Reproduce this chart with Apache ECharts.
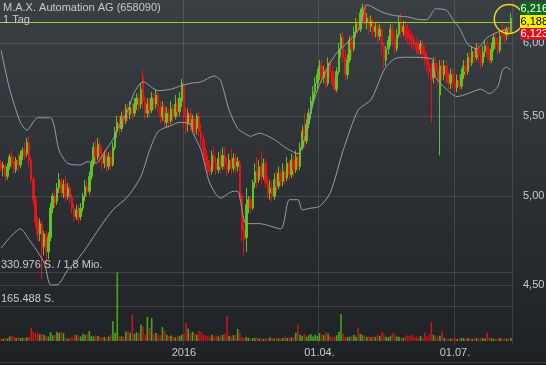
<!DOCTYPE html>
<html><head><meta charset="utf-8">
<script src="https://cdn.jsdelivr.net/npm/echarts@6/dist/echarts.min.js"></script>
<style>
html,body{margin:0;padding:0;background:#1d2023;}
#c{width:546px;height:365px;background:linear-gradient(180deg,#3a3f44 0%,#2b2f33 55%,#1e2124 100%);}
</style>
</head><body><div id="c"></div>
<script>
const titleText = 'M.A.X. Automation AG (658090)';
const periodText = '1 Tag';
// [open, close, low, high]
const candles = [
[5.20,5.17,5.15,5.22],[5.17,5.19,5.12,5.21],[5.18,5.12,5.09,5.20],[5.12,5.18,5.10,5.20],[5.18,5.24,5.16,5.26],
[5.24,5.20,5.17,5.28],[5.21,5.16,5.14,5.25],[5.16,5.22,5.14,5.24],[5.22,5.19,5.15,5.26],[5.19,5.25,5.17,5.28],
[5.25,5.28,5.22,5.30],[5.28,5.25,5.22,5.33],[5.26,5.33,5.24,5.36],[5.33,5.22,5.18,5.37],[5.22,5.10,5.08,5.24],
[5.10,4.98,4.95,5.12],[4.98,4.85,4.82,5.00],[4.85,4.78,4.74,4.88],[4.78,4.84,4.74,4.87],[4.84,4.70,4.53,4.86],
[4.71,4.78,4.66,4.80],[4.78,4.68,4.62,4.80],[4.68,4.76,4.64,4.79],[4.76,4.93,4.74,4.96],[4.93,5.00,4.90,5.02],
[5.00,4.96,4.93,5.04],[4.97,5.05,4.95,5.08],[5.05,5.10,5.02,5.14],[5.09,5.02,5.00,5.11],[5.02,5.07,4.99,5.10],
[5.07,5.00,4.97,5.12],[5.00,5.05,4.98,5.08],[5.05,4.99,4.96,5.07],[4.99,4.93,4.90,5.01],[4.93,4.88,4.85,4.96],
[4.88,4.92,4.86,4.95],[4.92,4.87,4.84,4.95],[4.88,4.93,4.86,4.96],[4.93,5.00,4.91,5.02],[5.00,5.06,4.97,5.10],
[5.06,5.03,5.00,5.10],[5.03,5.12,5.01,5.15],[5.12,5.20,5.10,5.22],[5.20,5.30,5.18,5.33],[5.30,5.24,5.20,5.34],
[5.24,5.32,5.22,5.36],[5.32,5.26,5.20,5.35],[5.26,5.20,5.16,5.30],[5.20,5.25,5.17,5.28],[5.25,5.18,5.15,5.30],
[5.18,5.24,5.16,5.27],[5.24,5.19,5.16,5.28],[5.19,5.30,5.18,5.33],[5.30,5.40,5.28,5.43],[5.40,5.46,5.36,5.50],
[5.46,5.42,5.38,5.50],[5.42,5.50,5.40,5.53],[5.50,5.47,5.43,5.55],[5.47,5.55,5.45,5.58],[5.55,5.51,5.47,5.58],
[5.51,5.56,5.48,5.60],[5.56,5.52,5.48,5.59],[5.52,5.58,5.50,5.62],[5.58,5.62,5.54,5.65],[5.62,5.57,5.53,5.66],
[5.58,5.68,5.55,5.72],[5.76,5.60,5.55,5.81],[5.60,5.52,5.48,5.63],[5.52,5.58,5.49,5.62],[5.58,5.54,5.50,5.62],
[5.54,5.62,5.52,5.66],[5.62,5.58,5.54,5.65],[5.58,5.64,5.55,5.68],[5.64,5.56,5.52,5.66],[5.56,5.50,5.45,5.60],
[5.50,5.56,5.47,5.60],[5.56,5.46,5.42,5.58],[5.46,5.52,5.43,5.56],[5.52,5.47,5.42,5.55],[5.47,5.55,5.45,5.60],
[5.55,5.50,5.46,5.58],[5.50,5.58,5.48,5.64],[5.58,5.53,5.49,5.62],[5.53,5.62,5.50,5.66],[5.60,5.72,5.56,5.75],
[5.70,5.50,5.42,5.72],[5.50,5.45,5.38,5.56],[5.45,5.52,5.40,5.55],[5.52,5.44,5.40,5.55],[5.44,5.48,5.40,5.51],
[5.48,5.40,5.37,5.50],[5.42,5.50,5.38,5.52],[5.50,5.40,5.37,5.53],[5.40,5.35,5.30,5.45],[5.35,5.28,5.24,5.38],
[5.28,5.22,5.18,5.30],[5.22,5.18,5.14,5.25],[5.18,5.15,5.12,5.22],[5.15,5.25,5.13,5.28],[5.25,5.20,5.16,5.30],
[5.20,5.16,5.13,5.24],[5.16,5.23,5.14,5.27],[5.23,5.18,5.14,5.28],[5.18,5.25,5.16,5.30],[5.25,5.20,5.16,5.30],
[5.20,5.16,5.12,5.24],[5.16,5.22,5.14,5.26],[5.22,5.17,5.13,5.29],[5.17,5.23,5.15,5.26],[5.23,5.18,5.14,5.26],
[5.18,5.21,5.15,5.24],[5.20,5.00,4.98,5.22],[5.00,4.80,4.74,5.02],[4.80,4.75,4.66,4.88],[4.76,4.95,4.68,5.05],
[4.95,4.98,4.90,5.00],[4.98,4.93,4.90,5.00],[4.93,5.08,4.92,5.10],[5.08,5.15,5.05,5.20],[5.15,5.10,5.05,5.24],
[5.10,5.18,5.08,5.22],[5.18,5.12,5.07,5.28],[5.12,5.20,5.10,5.23],[5.20,5.08,5.05,5.23],[5.08,5.02,4.99,5.12],
[5.02,5.05,4.98,5.10],[5.05,5.00,4.97,5.09],[5.00,5.10,4.98,5.14],[5.10,5.06,5.02,5.16],[5.06,5.14,5.04,5.18],
[5.14,5.09,5.06,5.16],[5.09,5.15,5.06,5.20],[5.15,5.11,5.07,5.19],[5.11,5.20,5.09,5.24],[5.20,5.13,5.10,5.22],
[5.13,5.22,5.11,5.26],[5.22,5.16,5.12,5.25],[5.16,5.24,5.14,5.28],[5.24,5.18,5.15,5.27],[5.18,5.30,5.16,5.33],
[5.30,5.40,5.28,5.44],[5.42,5.34,5.30,5.52],[5.34,5.45,5.32,5.48],[5.45,5.52,5.42,5.55],[5.52,5.60,5.48,5.63],
[5.60,5.66,5.56,5.70],[5.66,5.72,5.62,5.76],[5.72,5.78,5.68,5.82],[5.78,5.84,5.74,5.88],[5.84,5.76,5.72,5.88],
[5.76,5.80,5.72,5.84],[5.80,5.72,5.68,5.83],[5.72,5.86,5.70,5.90],[5.86,5.80,5.76,5.88],[5.80,5.72,5.70,5.84],
[5.72,5.68,5.66,5.76],[5.68,5.80,5.66,5.83],[5.80,5.96,5.78,6.00],[5.96,6.04,5.90,6.07],[6.04,5.90,5.86,6.08],
[5.90,5.78,5.74,5.95],[5.78,5.88,5.75,5.92],[5.88,6.02,5.86,6.05],[6.02,5.96,5.90,6.06],[5.96,6.08,5.94,6.12],
[6.08,6.14,6.04,6.18],[6.14,6.10,6.06,6.18],[6.10,6.22,6.08,6.25],[6.22,6.26,6.16,6.29],[6.26,6.15,6.12,6.28],
[6.15,6.18,6.10,6.22],[6.18,6.12,6.06,6.20],[6.12,6.16,6.08,6.20],[6.16,6.08,6.04,6.18],[6.08,6.12,6.04,6.15],
[6.12,6.05,6.00,6.16],[6.05,6.10,6.02,6.14],[6.10,5.98,5.92,6.12],[5.98,5.88,5.82,6.00],[5.88,5.96,5.84,5.98],
[5.96,6.02,5.92,6.05],[6.02,6.10,5.98,6.14],[6.10,6.02,5.98,6.14],[6.02,5.96,5.92,6.06],[5.96,6.06,5.94,6.10],
[6.06,6.15,6.04,6.20],[6.15,6.08,6.04,6.22],[6.08,6.12,6.05,6.16],[6.12,6.06,6.02,6.16],[6.10,6.04,6.00,6.14],
[6.06,6.02,5.98,6.10],[6.04,6.00,5.96,6.08],[6.02,5.98,5.95,6.06],[6.00,5.96,5.92,6.04],[5.98,5.94,5.90,6.02],
[5.96,5.99,5.92,6.02],[5.98,5.92,5.88,6.02],[5.94,5.88,5.84,5.98],[5.90,5.84,5.80,5.94],[5.85,5.80,5.76,5.90],
[5.82,5.74,5.46,5.86],[5.76,5.86,5.72,5.90],[5.86,5.80,5.76,5.90],[5.80,5.74,5.70,5.86],[5.64,5.84,5.25,5.88],
[5.84,5.78,5.74,5.88],[5.78,5.84,5.74,5.88],[5.84,5.76,5.72,5.88],[5.76,5.72,5.68,5.80],[5.72,5.78,5.68,5.82],
[5.78,5.72,5.68,5.82],[5.72,5.69,5.66,5.76],[5.69,5.74,5.66,5.78],[5.74,5.70,5.67,5.78],[5.70,5.78,5.68,5.82],
[5.78,5.84,5.75,5.88],[5.84,5.80,5.76,5.88],[5.80,5.90,5.78,5.93],[5.90,5.86,5.82,5.94],[5.86,5.94,5.84,5.98],
[5.94,5.90,5.86,5.98],[5.90,5.96,5.88,6.00],[5.96,5.92,5.86,6.00],[5.92,5.86,5.82,5.96],[5.86,5.94,5.84,5.98],
[5.94,5.98,5.90,6.02],[5.98,5.92,5.88,6.02],[5.92,5.88,5.85,5.96],[5.88,5.96,5.86,6.00],[5.96,6.04,5.94,6.07],
[6.04,6.00,5.96,6.08],[6.00,5.95,5.92,6.04],[5.95,6.05,5.93,6.08],[6.10,6.06,6.02,6.14],[6.08,6.05,6.00,6.12],
[6.06,6.10,6.02,6.12],[6.10,6.07,6.04,6.14],[6.08,6.18,6.07,6.22]
];
const volumes = [
12000,10000,14000,12000,22000,25000,20000,15000,18000,14000,
16000,15000,18000,20000,65000,45000,38000,40000,32000,35000,
30000,25000,22000,43000,28000,30000,45000,40000,46000,38000,
15000,12000,14000,18000,28000,30000,25000,22000,35000,30000,
33000,48000,25000,22000,28000,24000,20000,18000,20000,16000,
22000,30000,96000,40000,330000,25000,22000,20000,45000,48000,
40000,130000,35000,42000,38000,80000,70000,30000,115000,65000,
110000,35000,38000,30000,28000,67000,50000,30000,24000,26000,
20000,18000,22000,25000,30000,40000,90000,60000,35000,45000,
38000,30000,48000,45000,30000,28000,25000,22000,30000,24000,
26000,22000,28000,30000,35000,120000,25000,22000,28000,30000,
58000,40000,18000,15000,20000,15000,12000,14000,13000,16000,
12000,14000,10000,15000,12000,18000,14000,11000,16000,13000,
12000,15000,20000,14000,18000,16000,22000,40000,80000,30000,
25000,35000,20000,28000,32000,22000,30000,25000,38000,30000,
28000,42000,35000,25000,20000,22000,28000,45000,130000,35000,
20000,18000,22000,25000,30000,20000,65000,35000,28000,25000,
20000,24000,18000,22000,20000,30000,25000,45000,35000,20000,
18000,25000,38000,30000,22000,20000,16000,15000,22000,28000,
25000,30000,18000,20000,16000,24000,15000,40000,22000,30000,
92000,30000,22000,20000,25000,48000,15000,12000,14000,10000,
12000,14000,10000,12000,15000,13000,11000,14000,12000,10000,
12000,15000,13000,16000,14000,12000,40000,18000,13000,11000,
10000,12000,14000,11000,13000,12000,10000,15000
];
// Bollinger band lines: [candle index, price]
const upperBand = [[0,5.95],[4,5.68],[9,5.46],[12,5.41],[17,5.49],[23,5.49],[27,5.28],[31,5.20],[37,5.19],[40,5.21],[44,5.20],[48,5.27],[52,5.35],[55,5.44],[59,5.54],[62,5.66],[66,5.73],[73,5.67],[79,5.68],[83,5.70],[88,5.72],[93,5.73],[99,5.77],[102,5.74],[106,5.54],[110,5.42],[113,5.39],[116,5.37],[120,5.39],[127,5.35],[132,5.30],[138,5.26],[141,5.35],[145,5.58],[148,5.71],[153,5.86],[156,5.93],[162,6.02],[167,6.12],[170,6.28],[178,6.22],[183,6.20],[189,6.19],[195,6.17],[198,6.17],[202,6.25],[207,6.24],[210,6.17],[213,6.11],[217,5.99],[221,5.96],[226,6.04],[231,6.08],[237,6.11]];
const lowerBand = [[0,4.70],[4,4.76],[9,4.81],[13,4.75],[20,4.62],[23,4.50],[26,4.50],[31,4.58],[35,4.63],[40,4.71],[46,4.82],[52,4.92],[59,5.00],[65,5.12],[69,5.28],[73,5.40],[79,5.44],[83,5.46],[88,5.45],[89,5.40],[93,5.28],[97,5.08],[102,4.99],[108,5.03],[110,5.03],[114,4.84],[120,4.84],[130,4.81],[134,4.98],[138,4.98],[140,4.92],[144,4.93],[148,4.94],[153,5.02],[159,5.28],[166,5.54],[172,5.61],[178,5.81],[183,5.89],[189,5.90],[200,5.89],[202,5.76],[207,5.68],[212,5.63],[217,5.65],[223,5.68],[227,5.65],[231,5.70],[233,5.81],[235,5.83],[237,5.81]];
const priceTicks = [4.5, 5.0, 5.5, 6.0];
const priceTickLabels = ['4,50', '5,00', '5,50', '6,00'];
const dateTickIndex = [85, 148, 211];
const dateTickLabels = ['2016', '01.04.', '01.07.'];
const volumeTicks = [165488, 330976];
const volumeTickLabels = ['165.488 S.', '330.976 S. / 1,8 Mio.'];
const quoteLabels = ['6,216', '6,188', '6,123'];
const lastPriceLine = 6.15;
const priceMin = 4.189, priceMax = 6.316;
const volumeMax = 330976;

const categories = candles.map((d, i) => String(i));
const UP = '#5cc520', DOWN = '#e8121c';
const VUP = '#45a41e', VDOWN = '#c0161c';
const GRID = 'rgba(255,255,255,0.12)';
const TXT = '#c9cbcd';
const FONT = '"Liberation Sans", Arial, sans-serif';

const chart = echarts.init(document.getElementById('c'), null, {renderer: 'canvas'});
chart.setOption({
  animation: false,
  backgroundColor: 'transparent',
  textStyle: {fontFamily: FONT},
  grid: [
    {left: 0, top: 0, width: 512, height: 345},
    {left: 0, top: 272.3, width: 512, height: 68.7}
  ],
  xAxis: [
    {type: 'category', data: categories, gridIndex: 0, boundaryGap: true,
     axisLine: {show: false}, axisTick: {show: false}, axisLabel: {show: false},
     splitLine: {show: true, interval: (i) => dateTickIndex.includes(i), lineStyle: {color: GRID, width: 1}}},
    {type: 'category', data: categories, gridIndex: 1, boundaryGap: true,
     axisLine: {show: false}, axisTick: {show: false}, splitLine: {show: false},
     axisLabel: {show: true, interval: (i) => dateTickIndex.includes(i),
       formatter: (v, i) => { const k = dateTickIndex.indexOf(i); return k >= 0 ? dateTickLabels[k] : ''; },
       color: TXT, fontSize: 11, margin: 6, fontFamily: FONT}}
  ],
  yAxis: [
    {type: 'log', logBase: 10, gridIndex: 0, min: priceMin, max: priceMax, show: false},
    {type: 'value', gridIndex: 1, min: 0, max: volumeMax, show: false}
  ],
  series: [
    {type: 'line', xAxisIndex: 0, yAxisIndex: 0, data: [], z: 1, silent: true,
     markLine: {silent: true, symbol: 'none', animation: false,
       lineStyle: {color: GRID, type: 'solid', width: 1},
       label: {show: true, position: 'end', distance: 11, color: TXT, fontSize: 11, fontFamily: FONT},
       data: priceTicks.map((v, k) => ({yAxis: v, label: {formatter: priceTickLabels[k]}}))}},
    {type: 'bar', xAxisIndex: 1, yAxisIndex: 1, barWidth: '75%', z: 2,
     data: volumes.map((v, i) => ({value: v, itemStyle: {color: candles[i][1] >= candles[i][0] ? VUP : VDOWN}})),
     markLine: {silent: true, symbol: 'none', animation: false,
       lineStyle: {color: GRID, type: 'solid', width: 1},
       label: {show: true, position: 'insideStartTop', distance: [1, 2], color: TXT, fontSize: 11, fontFamily: FONT},
       data: volumeTicks.map((v, k) => ({yAxis: v, label: {formatter: volumeTickLabels[k]}}))}},
    {type: 'candlestick', xAxisIndex: 0, yAxisIndex: 0, data: candles, barWidth: 2, z: 3,
     itemStyle: {color: UP, color0: DOWN, borderColor: UP, borderColor0: DOWN, borderWidth: 1},
     markLine: {silent: true, symbol: 'none', animation: false,
       lineStyle: {color: '#86cf2c', type: 'solid', width: 1}, label: {show: false},
       data: [{yAxis: lastPriceLine}]},
     markPoint: {silent: true, animation: false,
       data: [{coord: [categories[236], 6.175], symbol: 'circle', symbolSize: 29,
               itemStyle: {color: 'rgba(0,0,0,0)', borderColor: '#e4dc1c', borderWidth: 1.5}, label: {show: false}}]}},
    {type: 'line', xAxisIndex: 0, yAxisIndex: 0, data: upperBand, showSymbol: false, smooth: 0.25, z: 4,
     lineStyle: {color: '#9a9ea3', width: 1}},
    {type: 'line', xAxisIndex: 0, yAxisIndex: 0, data: lowerBand, showSymbol: false, smooth: 0.25, z: 4,
     lineStyle: {color: '#9a9ea3', width: 1}}
  ],
  graphic: [
    {type: 'text', left: 3, top: 2, z: 10, style: {text: titleText, fill: TXT, font: '11px ' + FONT}},
    {type: 'text', left: 3, top: 14, z: 10, style: {text: periodText, fill: TXT, font: '11px ' + FONT}},
    {type: 'line', z: 0, shape: {x1: 0, y1: 362.5, x2: 546, y2: 362.5}, style: {stroke: '#3a3e42', lineWidth: 1}},
    {type: 'rect', z: 10, shape: {x: 520, y: 2, width: 26, height: 13}, style: {fill: '#0d6a1d'}},
    {type: 'text', z: 11, x: 520.5, y: 8.5, style: {text: quoteLabels[0], fill: '#ffffff', font: '11px ' + FONT, verticalAlign: 'middle'}},
    {type: 'rect', z: 10, shape: {x: 520, y: 15, width: 26, height: 13}, style: {fill: '#f2f000'}},
    {type: 'text', z: 11, x: 520.5, y: 21.5, style: {text: quoteLabels[1], fill: '#000000', font: '11px ' + FONT, verticalAlign: 'middle'}},
    {type: 'rect', z: 10, shape: {x: 520, y: 28, width: 26, height: 12}, style: {fill: '#d8121f'}},
    {type: 'text', z: 11, x: 520.5, y: 34, style: {text: quoteLabels[2], fill: '#ffffff', font: '11px ' + FONT, verticalAlign: 'middle'}}
  ]
});
</script>
</body></html>
